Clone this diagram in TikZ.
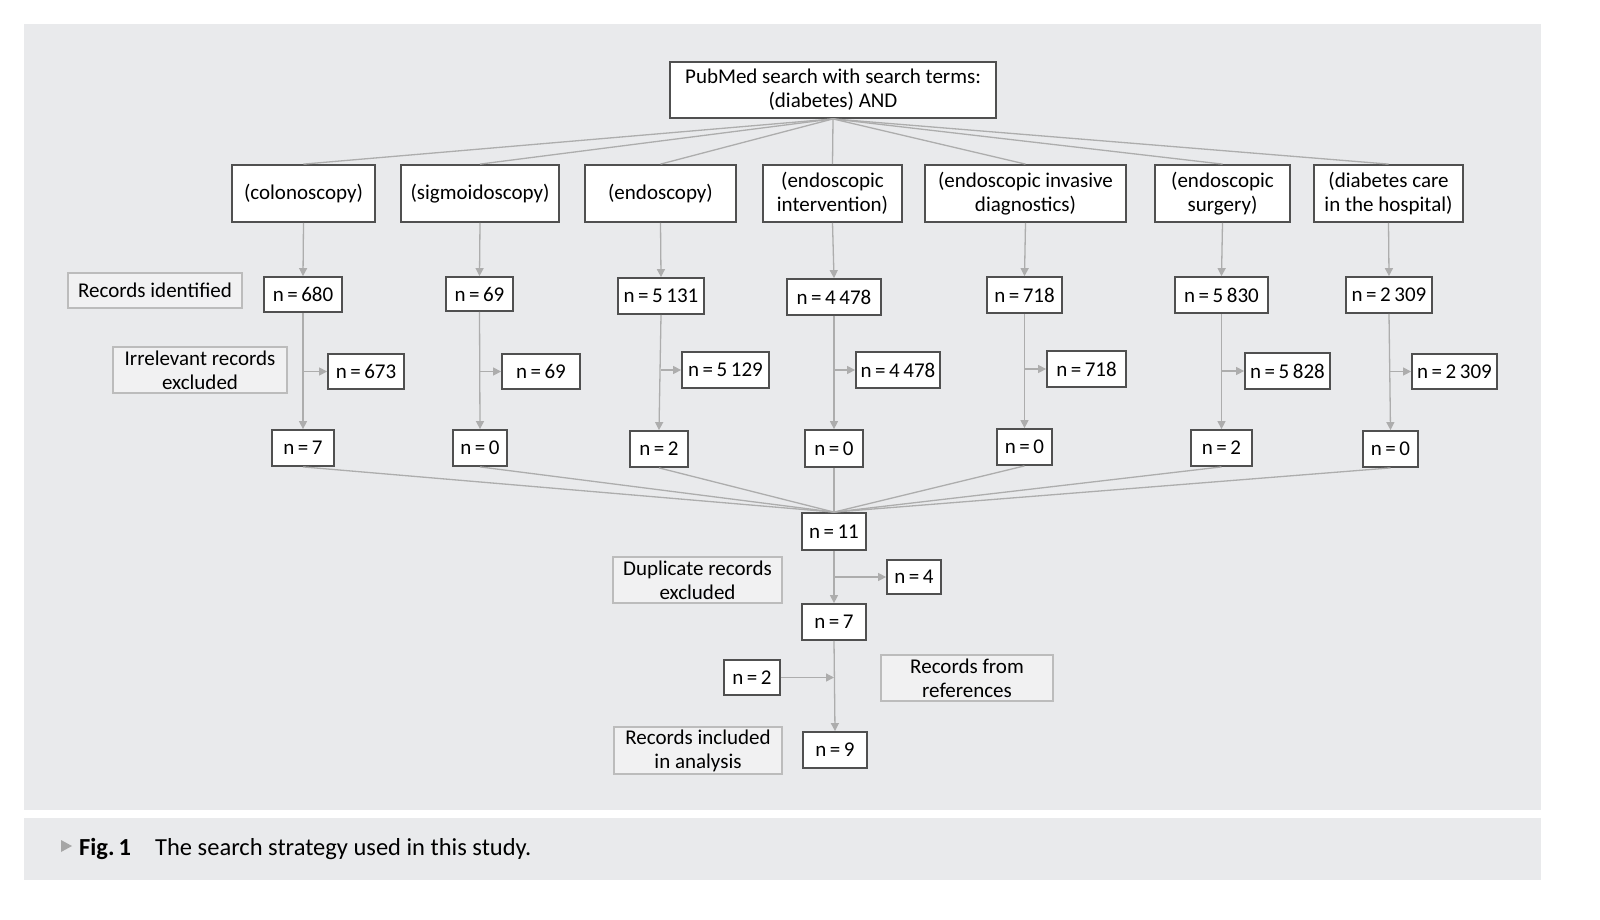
\documentclass[tikz,border=0pt]{standalone}
\usepackage{fontspec}
\setmainfont{Carlito}
\usetikzlibrary{arrows.meta,calc}
\definecolor{panel}{HTML}{E9EAEC}
\definecolor{lblfill}{HTML}{F1F1F2}
\definecolor{lbldraw}{HTML}{BCBCBC}
\definecolor{boxdraw}{HTML}{505050}
\definecolor{conn}{HTML}{ADADAD}
\begin{document}
\begin{tikzpicture}[x=1pt,y=-1pt,
  every node/.style={font=\fontsize{21}{24}\selectfont, inner sep=0pt, align=center},
  wbox/.style={draw=boxdraw, fill=white, line width=1.8pt},
  lbox/.style={draw=lbldraw, fill=lblfill, line width=1.4pt},
  line/.style={draw=conn, line width=1.3pt},
  arr/.style={line, -{Triangle[length=8pt,width=8pt]}}]
\useasboundingbox (0,0) rectangle (1600,919);
\fill[white] (0,0) rectangle (1600,919);
\fill[panel] (24,24) rectangle (1541,810);
\fill[panel] (24,818) rectangle (1541,880);

% top
\node[wbox, minimum width=326, minimum height=56] (top) at (833,90) {PubMed search with search terms:\\(diabetes) AND};

% categories
\node[wbox, minimum width=143, minimum height=57] (c1) at (303.5,193.5) {(colonoscopy)};
\node[wbox, minimum width=158, minimum height=57] (c2) at (480,193.5) {(sigmoidoscopy)};
\node[wbox, minimum width=151, minimum height=57] (c3) at (660.5,193.5) {(endoscopy)};
\node[wbox, minimum width=139, minimum height=57] (c4) at (832.5,193.5) {(endoscopic\\intervention)};
\node[wbox, minimum width=201, minimum height=57] (c5) at (1025.5,193.5) {(endoscopic invasive\\diagnostics)};
\node[wbox, minimum width=135, minimum height=57] (c6) at (1222.5,193.5) {(endoscopic\\surgery)};
\node[wbox, minimum width=149, minimum height=57] (c7) at (1388.5,193.5) {(diabetes care\\in the hospital)};

% labels
\node[lbox, minimum width=174, minimum height=35] (lid) at (155,290.5) {Records identified};
\node[lbox, minimum width=174, minimum height=46] (lirr) at (200,370) {Irrelevant records\\excluded};
\node[lbox, minimum width=169, minimum height=46] (ldup) at (697.5,580) {Duplicate records\\excluded};
\node[lbox, minimum width=172, minimum height=46] (lref) at (967,678) {Records from\\references};
\node[lbox, minimum width=168, minimum height=47] (linc) at (698,750.5) {Records included\\in analysis};

% row 1
\node[wbox, minimum width=78, minimum height=35] (a1) at (303,294.5) {n\,=\,680};
\node[wbox, minimum width=67, minimum height=34] (a2) at (479.5,294) {n\,=\,69};
\node[wbox, minimum width=86, minimum height=36] (a3) at (661,296) {n\,=\,5\,131};
\node[wbox, minimum width=94, minimum height=36] (a4) at (834,297) {n\,=\,4\,478};
\node[wbox, minimum width=75, minimum height=36] (a5) at (1024.5,295) {n\,=\,718};
\node[wbox, minimum width=93, minimum height=36] (a6) at (1221.5,295) {n\,=\,5\,830};
\node[wbox, minimum width=86, minimum height=36] (a7) at (1389,295) {n\,=\,2\,309};

% row 2 (excluded)
\node[wbox, minimum width=76, minimum height=35] (e1) at (366,371.5) {n\,=\,673};
\node[wbox, minimum width=78, minimum height=35] (e2) at (541,371.5) {n\,=\,69};
\node[wbox, minimum width=87, minimum height=36] (e3) at (725.5,370) {n\,=\,5\,129};
\node[wbox, minimum width=84, minimum height=36] (e4) at (898,370) {n\,=\,4\,478};
\node[wbox, minimum width=79, minimum height=36] (e5) at (1086.5,369) {n\,=\,718};
\node[wbox, minimum width=85, minimum height=36] (e6) at (1287.5,371) {n\,=\,5\,828};
\node[wbox, minimum width=85, minimum height=35] (e7) at (1454.5,371.5) {n\,=\,2\,309};

% row 3
\node[wbox, minimum width=62, minimum height=36] (b1) at (303,448) {n\,=\,7};
\node[wbox, minimum width=54, minimum height=36] (b2) at (480,448) {n\,=\,0};
\node[wbox, minimum width=58, minimum height=36] (b3) at (659,449) {n\,=\,2};
\node[wbox, minimum width=58, minimum height=37] (b4) at (834,448.5) {n\,=\,0};
\node[wbox, minimum width=55, minimum height=36] (b5) at (1024.5,447) {n\,=\,0};
\node[wbox, minimum width=61, minimum height=36] (b6) at (1221.5,448) {n\,=\,2};
\node[wbox, minimum width=55, minimum height=36] (b7) at (1390.5,449) {n\,=\,0};

% lower chain
\node[wbox, minimum width=64, minimum height=37] (m11) at (834,531.5) {n\,=\,11};
\node[wbox, minimum width=54, minimum height=34] (m4) at (914,577) {n\,=\,4};
\node[wbox, minimum width=64, minimum height=36] (m7) at (834,622) {n\,=\,7};
\node[wbox, minimum width=56, minimum height=35] (m2) at (752,677.5) {n\,=\,2};
\node[wbox, minimum width=64, minimum height=36] (m9) at (835,750) {n\,=\,9};

% fan from top
\foreach \c in {c1,c2,c3,c4,c5,c6,c7}
  \draw[line] (top.south) -- (\c.north);

% columns
\foreach \i in {1,...,7} {
  \draw[arr] (c\i.south) -- (a\i.north);
  \draw[arr] (a\i.south) -- (b\i.north);
  \draw[arr] (a\i.south |- e\i.west) -- (e\i.west);
  \draw[line] (b\i.south) -- (m11.north);
}

% lower
\draw[arr] (m11.south) -- (m7.north);
\draw[arr] (m11.south |- m4.west) -- (m4.west);
\draw[arr] (m7.south) -- (m9.north);
\coordinate (j2) at (m7.south |- m2.east);
\draw[arr] (m2.east) -- (j2);

% caption
\fill[gray!70] (61,840) -- (72,846) -- (61,852) -- cycle;
\node[anchor=base west, font=\fontsize{24.5}{28}\selectfont\bfseries] (fig) at (79,855) {Fig.\,1};
\node[anchor=base west, font=\fontsize{24.5}{28}\selectfont] (cap) at (155,855) {The search strategy used in this study.};
\end{tikzpicture}
\end{document}
